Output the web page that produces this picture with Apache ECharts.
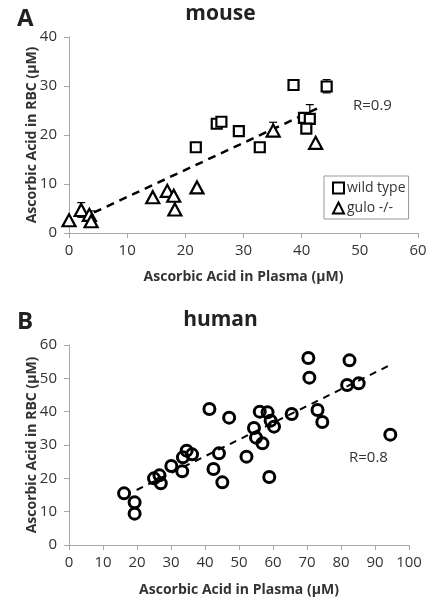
<!DOCTYPE html>
<html><head><meta charset="utf-8">
<script src="https://cdn.jsdelivr.net/npm/echarts@6/dist/echarts.min.js"></script>
<style>html,body{margin:0;padding:0;background:#fff}#c{width:441px;height:601px}</style>
</head><body><div id="c"></div>
<script>
// ---- data ----
const mouseWild = [[21.8,17.5],[25.4,22.3],[26.2,22.7],[29.2,20.8],[32.8,17.5],[38.6,30.2],[44.3,29.9],[40.4,23.5],[41.4,23.3],[40.8,21.3]];
const mouseGulo = [[0.0,2.6],[2.1,4.7],[3.5,3.7],[3.8,2.4],[14.4,7.3],[16.9,8.6],[18.0,7.6],[18.2,4.8],[22.0,9.3],[35.1,20.9],[42.4,18.4]];
// error bars: [x, y, low, high]
const mouseErr = [[44.3,29.9,28.6,31.3],[41.4,23.3,23.3,26.2],[35.1,20.9,19.8,22.6],[2.1,4.7,3.2,6.2],[3.8,3.5,2.8,4.5],[32.8,17.5,16.6,18.3]];
const mouseTrend = [[4.3,4.2],[43.2,25.7]];
const human = [[16.2,15.5],[19.3,12.8],[19.3,9.4],[25.0,20.0],[26.6,20.9],[27.0,18.5],[30.1,23.7],[33.3,22.1],[33.5,26.3],[34.6,28.3],[36.2,27.2],[41.3,40.8],[42.5,22.8],[44.1,27.5],[45.1,18.8],[47.1,38.2],[52.2,26.5],[54.4,35.1],[55.0,32.2],[56.1,40.0],[56.9,30.5],[58.4,39.8],[58.9,20.4],[59.3,37.3],[60.3,35.5],[65.5,39.3],[70.4,56.1],[70.7,50.2],[73.1,40.5],[74.5,36.9],[81.8,48.0],[82.5,55.4],[85.2,48.5],[94.5,33.1]];
const humanTrend = [[19.9,16.5],[94.1,53.8]];
const mouseXTicks = [0,60,10];
const mouseYTicks = [0,40,10];
const humanXTicks = [0,100,10];
const humanYTicks = [0,60,10];

const FONT = '"Open Sans", "Liberation Sans", sans-serif';
const TXT = '#333';
const AX = '#a8a8a8';

function axisCommon(extra){
  return Object.assign({
    type:'value',
    splitLine:{show:false},
    axisLine:{show:true,lineStyle:{color:AX,width:1}},
    axisTick:{show:true,inside:false,length:5,lineStyle:{color:AX}},
    nameLocation:'middle',
    nameMoveOverlap:false,
    nameTextStyle:{color:TXT,fontSize:14,fontWeight:'bold',fontFamily:FONT}
  }, extra);
}
function lbl(m){ return {color:TXT,fontSize:15,fontFamily:FONT,margin:m}; }

function errRender(){
  return function(params, api){
    const x = api.value(0), lo = api.value(2), hi = api.value(3);
    const a = api.coord([x, lo]), b = api.coord([x, hi]);
    const w = 4;
    const st = {stroke:'#000', lineWidth:1.2};
    return {type:'group', children:[
      {type:'line', shape:{x1:a[0],y1:a[1],x2:b[0],y2:b[1]}, style:st},
      {type:'line', shape:{x1:a[0]-w,y1:a[1],x2:a[0]+w,y2:a[1]}, style:st},
      {type:'line', shape:{x1:b[0]-w,y1:b[1],x2:b[0]+w,y2:b[1]}, style:st}
    ]};
  };
}

const chart = echarts.init(document.getElementById('c'), null, {renderer:'canvas'});
chart.setOption({
  animation:false,
  backgroundColor:'#fff',
  title:[
    {text:'mouse', left:'center', top:-1, textStyle:{fontSize:21,fontWeight:'bold',color:'#222',fontFamily:FONT}},
    {text:'A', left:12, top:2, textStyle:{fontSize:24,fontWeight:'bold',color:'#222',fontFamily:FONT}},
    {text:'human', left:'center', top:305, textStyle:{fontSize:21,fontWeight:'bold',color:'#222',fontFamily:FONT}},
    {text:'B', left:12, top:305, textStyle:{fontSize:24,fontWeight:'bold',color:'#222',fontFamily:FONT}}
  ],
  grid:[
    {left:69, top:37, width:349, height:196},
    {left:69, top:345, width:340, height:200}
  ],
  xAxis:[
    axisCommon({gridIndex:0, min:mouseXTicks[0], max:mouseXTicks[1], interval:mouseXTicks[2], name:'Ascorbic Acid in Plasma (µM)', nameGap:37, axisLabel:lbl(10)}),
    axisCommon({gridIndex:1, min:humanXTicks[0], max:humanXTicks[1], interval:humanXTicks[2], name:'Ascorbic Acid in Plasma (µM)', nameGap:38, axisLabel:lbl(10)})
  ],
  yAxis:[
    axisCommon({gridIndex:0, min:mouseYTicks[0], max:mouseYTicks[1], interval:mouseYTicks[2], name:'Ascorbic Acid in RBC (µM)', nameGap:30, axisLabel:lbl(12)}),
    axisCommon({gridIndex:1, min:humanYTicks[0], max:humanYTicks[1], interval:humanYTicks[2], name:'Ascorbic Acid in RBC (µM)', nameGap:30, axisLabel:lbl(12)})
  ],
  legend:{
    left:324, top:176, orient:'vertical',
    padding:[5,3,4,8], itemGap:6,
    borderColor:'#999', borderWidth:1, backgroundColor:'#fff',
    itemWidth:11, itemHeight:11,
    textStyle:{color:TXT,fontSize:14,fontFamily:FONT, padding:[0,0,0,-2]},
    data:[{name:'wild type', icon:'rect'},{name:'gulo -/-', icon:'triangle'}]
  },
  graphic:[
    {type:'text', left:353, top:98, style:{text:'R=0.9', fill:TXT, font:'15px '+FONT}},
    {type:'text', left:349, top:450, style:{text:'R=0.8', fill:TXT, font:'15px '+FONT}}
  ],
  series:[
    {type:'line', xAxisIndex:0, yAxisIndex:0, data:mouseTrend, symbol:'none', lineStyle:{color:'#000',width:2.5,type:[8,6]}, z:1, silent:true},
    {type:'custom', xAxisIndex:0, yAxisIndex:0, data:mouseErr, renderItem:errRender(), z:2, silent:true},
    {name:'wild type', type:'scatter', xAxisIndex:0, yAxisIndex:0, data:mouseWild, symbol:'rect', symbolSize:10,
      itemStyle:{color:'#fff', borderColor:'#000', borderWidth:2.2, opacity:1}, z:3},
    {name:'gulo -/-', type:'scatter', xAxisIndex:0, yAxisIndex:0, data:mouseGulo, symbol:'triangle', symbolSize:[13,12],
      itemStyle:{color:'#fff', borderColor:'#000', borderWidth:2.2, opacity:1}, z:3},
    {type:'line', xAxisIndex:1, yAxisIndex:1, data:humanTrend, symbol:'none', lineStyle:{color:'#000',width:2,type:[7,6]}, z:1, silent:true},
    {name:'human', type:'scatter', xAxisIndex:1, yAxisIndex:1, data:human, symbol:'circle', symbolSize:11,
      itemStyle:{color:'rgba(255,255,255,0)', borderColor:'#000', borderWidth:3, opacity:1}, z:3}
  ]
});
</script></body></html>
